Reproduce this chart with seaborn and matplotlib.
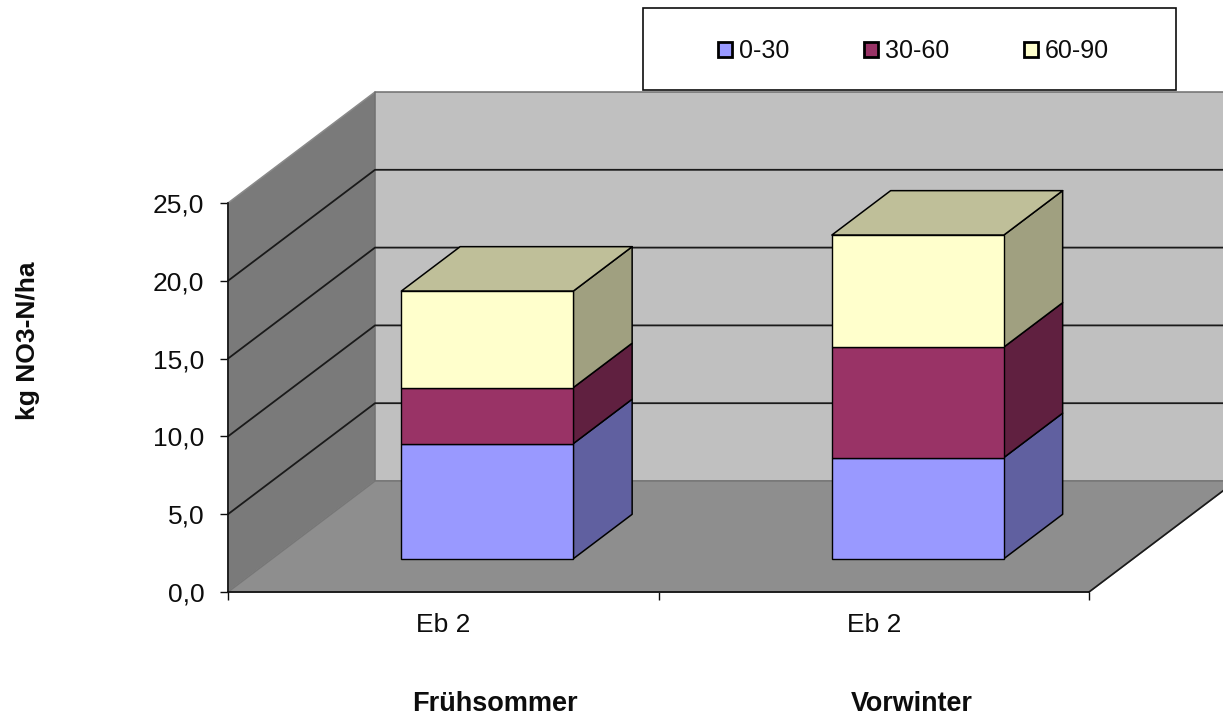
import numpy as np
import matplotlib
matplotlib.use("Agg")
import matplotlib.pyplot as plt
from matplotlib.patches import Polygon, Rectangle
import seaborn as sns

# values
seasons = ["Frühsommer", "Vorwinter"]
categories = ["Eb 2", "Eb 2"]
depths = ["0-30", "30-60", "60-90"]
layer_0_30 = [7.4, 6.5]
layer_30_60 = [3.6, 7.1]
layer_60_90 = [6.2, 7.2]
y_ticks = [0, 5, 10, 15, 20, 25]

FRONT = ["#9999FF", "#993366", "#FFFFCC"]
SIDE = ["#6060A0", "#602040", "#A0A080"]
TOP = "#BFBF99"
INK = "#0d0d0d"

W, H = 1223, 716
AX_L, AX_R, AX_B, AX_T = 228, 1089, 592, 203

sns.set_theme(style="white")
plt.rcParams["font.family"] = ["Liberation Sans", "DejaVu Sans"]

fig = plt.figure(figsize=(W / 100, H / 100), dpi=100)
ax = fig.add_axes([AX_L / W, 1 - AX_B / H, (AX_R - AX_L) / W, (AX_B - AX_T) / H])
ax.set_xlim(-0.5, 1.5)
ax.set_ylim(0, 25)

# depth of the 3D box, in data units
px_x = 2 / (AX_R - AX_L)
px_y = 25 / (AX_B - AX_T)
DX = 147 * px_x
DY = 111 * px_y
BAR_START = 0.3
BAR_END = 0.7
BAR_W = 172 * px_x


def shift(x, y, d):
    return x + d * DX, y + d * DY


def face(points, color, edge="black", lw=1.1, z=3):
    ax.add_patch(Polygon(points, closed=True, facecolor=color, edgecolor=edge,
                         linewidth=lw, clip_on=False, zorder=z, joinstyle="round"))


x0, x1 = ax.get_xlim()

# walls and floor
face([shift(x0, 0, 0), shift(x0, 25, 0), shift(x0, 25, 1), shift(x0, 0, 1)], "#7A7A7A", edge="#8a8a8a", z=1)
face([shift(x0, 0, 1), shift(x0, 25, 1), shift(x1, 25, 1), shift(x1, 0, 1)], "#C0C0C0", edge="#6e6e6e", z=1)
face([shift(x0, 0, 0), shift(x0, 0, 1), shift(x1, 0, 1), shift(x1, 0, 0)], "#8E8E8E", edge="#777777", z=1.5)
ax.plot(*zip(shift(x1, 0, 0), shift(x1, 0, 1)), color="#1a1a1a", lw=1.2, clip_on=False, zorder=1.6)

# gridlines run along the side wall and the back wall
for v in y_ticks[1:-1]:
    pts = [shift(x0, v, 0), shift(x0, v, 1), shift(x1, v, 1)]
    ax.plot(*zip(*pts), color="#1a1a1a", lw=1.3, clip_on=False, zorder=2)

# stacked front faces through seaborn, sides and tops worked out from the values
layers = [layer_0_30, layer_30_60, layer_60_90]
positions = np.arange(len(categories))
bottom = np.zeros(len(categories))
x_front, _ = shift(positions.astype(float), 0, BAR_START)
y_lift = BAR_START * DY
ddx = (BAR_END - BAR_START) * DX
ddy = (BAR_END - BAR_START) * DY
for name, vals, col, side in zip(depths, layers, FRONT, SIDE):
    vals = np.array(vals)
    sns.barplot(x=x_front, y=vals, bottom=bottom + y_lift, native_scale=True, width=0.4,
                color=col, saturation=1, edgecolor="black", linewidth=1.0,
                label=name, legend=False, ax=ax, zorder=4)
    for xf, b, v in zip(x_front, bottom, vals):
        xr = xf + BAR_W / 2
        lo, hi = b + y_lift, b + v + y_lift
        face([(xr, lo), (xr, hi), (xr + ddx, hi + ddy), (xr + ddx, lo + ddy)], side, z=3)
    bottom = bottom + vals

# bar tops
for xf, total in zip(x_front, bottom):
    xl, xr = xf - BAR_W / 2, xf + BAR_W / 2
    yy = total + y_lift
    face([(xl, yy), (xr, yy), (xr + ddx, yy + ddy), (xl + ddx, yy + ddy)], TOP, z=3)

for p in ax.patches:
    p.set_clip_on(False)

ax.set_xlim(x0, x1)
ax.set_ylim(0, 25)
ax.set_xlabel("")
ax.set_ylabel("")
ax.set_yticks(y_ticks)
ax.set_yticklabels([f"{v:.1f}".replace(".", ",") for v in y_ticks], fontsize=19, color=INK)
ax.set_xticks([-0.5, 0.5, 1.5])
ax.set_xticklabels([])
ax.set_xticks(positions, minor=True)
ax.set_xticklabels(categories, minor=True, fontsize=19, color=INK)
ax.tick_params(axis="x", which="major", length=6, width=1, color=INK, bottom=True)
ax.tick_params(axis="x", which="minor", length=0, pad=15, bottom=False)
ax.tick_params(axis="y", length=6, width=1, color=INK, left=True, pad=11)
ax.patch.set_visible(False)
for s in ["top", "right"]:
    ax.spines[s].set_visible(False)
for s in ["left", "bottom"]:
    ax.spines[s].set_color(INK)
    ax.spines[s].set_linewidth(1.2)
    ax.spines[s].set_zorder(2.5)

# legend sits in its own box above the chart
fig.add_artist(Rectangle((643 / W, 1 - 90 / H), 533 / W, 82 / H, transform=fig.transFigure,
                         facecolor="white", edgecolor=INK, linewidth=1.2, zorder=5))
handles, labels = ax.get_legend_handles_labels()
leg = fig.legend(handles[:3], labels[:3], ncol=3, frameon=False, loc="center",
                 bbox_to_anchor=(913.5 / W, 1 - 51 / H), fontsize=18, labelcolor=INK,
                 handlelength=0.56, handleheight=0.56, handletextpad=0.28, columnspacing=3.0)
leg.set_zorder(6)
for h in leg.legend_handles:
    h.set_edgecolor("black")
    h.set_linewidth(2)

fig.text(28.5 / W, 1 - 341 / H, "kg NO3-N/ha", rotation=90, fontsize=19, fontweight="bold",
         ha="center", va="center", color=INK)
fig.text(494.5 / W, 1 - 704 / H, seasons[0], fontsize=19.5, fontweight="bold", ha="center", va="center", color=INK)
fig.text(911.5 / W, 1 - 704 / H, seasons[1], fontsize=19.4, fontweight="bold", ha="center", va="center", color=INK)

fig.savefig("out.png", dpi=100)
